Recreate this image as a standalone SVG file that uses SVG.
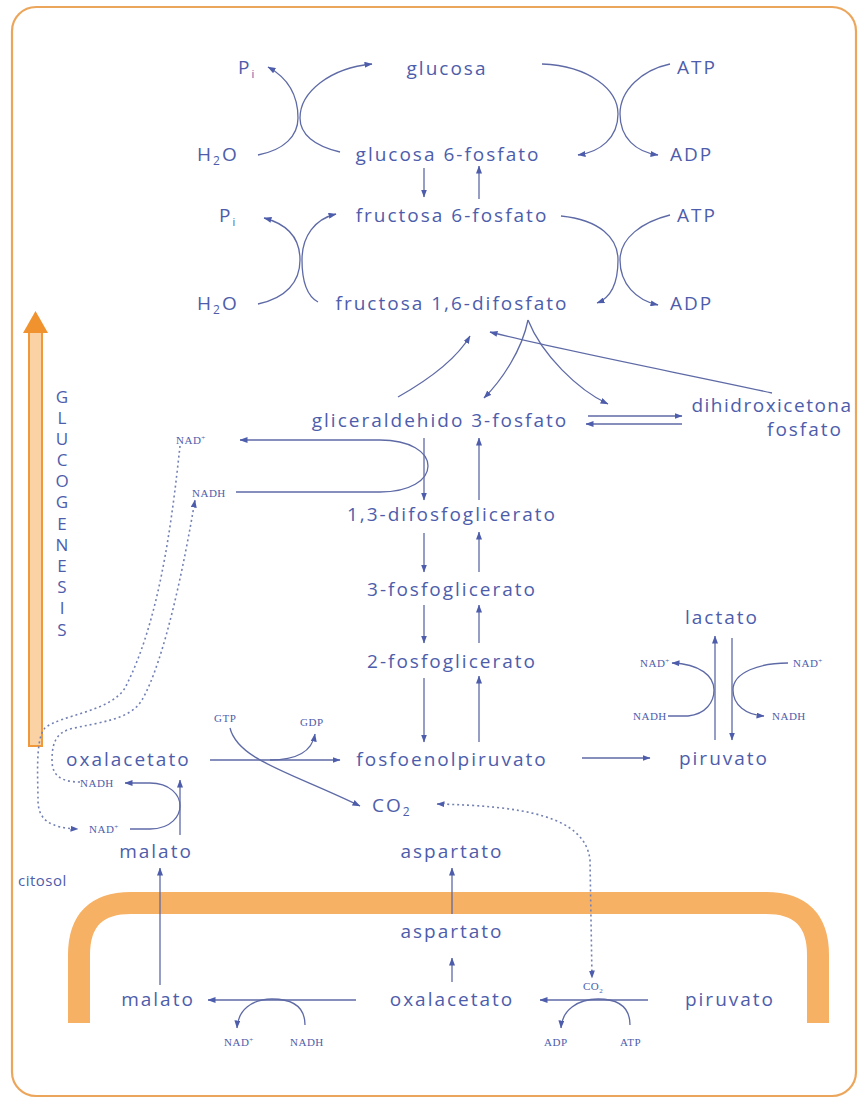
<svg xmlns="http://www.w3.org/2000/svg" width="861" height="1099" viewBox="0 0 861 1099">
<style>
.t{font-family:'Open Sans','Liberation Sans',sans-serif;font-size:19px;fill:#4d5dab;letter-spacing:2px}
.m{text-anchor:middle}
.s{font-family:'Liberation Serif',serif;font-size:11px;fill:#4d5dab;letter-spacing:0.5px}
.v{font-family:'Open Sans','Liberation Sans',sans-serif;font-size:17px;fill:#4d5dab;text-anchor:middle}
.c{fill:none;stroke:#5e6aa6;stroke-width:1.3}
.a{marker-end:url(#ah)}
.d{fill:none;stroke:#7380b3;stroke-width:1.6;stroke-dasharray:2 3}
</style>
<defs>
<marker id="ah" viewBox="0 0 8 6" refX="7.5" refY="3" markerWidth="8" markerHeight="6" markerUnits="userSpaceOnUse" orient="auto-start-reverse">
<path d="M0,0 L8,3 L0,6 z" fill="#4d5dab"/>
</marker>
</defs>
<rect x="0" y="0" width="861" height="1099" fill="#ffffff"/>
<rect id="frame" x="12" y="7" width="844" height="1089" rx="24" fill="none" stroke="#eca65c" stroke-width="2.2"/>
<g id="membrane">
<path d="M 79 1023 V 955 Q 79 903 131 903 H 766 Q 818 903 818 955 V 1023" fill="none" stroke="#f6b164" stroke-width="22"/>
</g>
<g id="glucogenesis-arrow">
<rect x="29" y="332" width="13" height="414" fill="#fbd2a4" stroke="#f0993c" stroke-width="2"/>
<polygon points="23,333 35.5,311 48,333" fill="#f0922e"/>
</g>
<g id="glucogenesis-label">
<text class="v" x="62" y="403">G</text>
<text class="v" x="62" y="424">L</text>
<text class="v" x="62" y="445">U</text>
<text class="v" x="62" y="466">C</text>
<text class="v" x="62" y="487">O</text>
<text class="v" x="62" y="508">G</text>
<text class="v" x="62" y="530">E</text>
<text class="v" x="62" y="551">N</text>
<text class="v" x="62" y="572">E</text>
<text class="v" x="62" y="593">S</text>
<text class="v" x="62" y="614">I</text>
<text class="v" x="62" y="636">S</text>
</g>

<g id="connectors">
<path class="c a" d="M 258 155 C 284 150 298 136 298 118 C 298 96 288 78 268 67"/>
<path class="c a" d="M 340 152 C 314 146 300 134 300 118 C 300 92 330 68 372 64"/>
<path class="c a" d="M 542 64 C 590 66 618 90 618 114 C 618 138 600 152 578 155"/>
<path class="c a" d="M 670 64 C 642 70 620 90 620 114 C 620 138 636 152 658 155"/>
<path class="c a" d="M 424 168 V 197"/>
<path class="c a" d="M 479 199 V 166"/>
<path class="c a" d="M 258 304 C 286 298 300 282 300 260 C 300 238 287 224 264 218"/>
<path class="c a" d="M 318 302 C 307 296 302 280 302 260 C 302 236 315 219 336 214"/>
<path class="c a" d="M 561 216 C 600 220 618 238 618 260 C 618 284 610 298 597 303"/>
<path class="c a" d="M 670 215 C 642 222 620 238 620 260 C 620 284 636 300 658 305"/>
<path class="c a" d="M 398 397 C 428 380 456 360 470 336"/>
<path class="c a" d="M 772 393 C 690 375 560 350 490 332"/>
<path class="c a" d="M 528 320 C 522 350 502 380 484 398"/>
<path class="c a" d="M 528 320 C 542 355 578 390 608 404"/>
<path class="c a" d="M 588 416 H 682"/>
<path class="c a" d="M 682 424 H 586"/>
<path class="c a" d="M 424 438 V 500"/>
<path class="c a" d="M 479 500 V 438"/>
<path class="c a" d="M 424 533 V 572"/>
<path class="c a" d="M 479 572 V 532"/>
<path class="c a" d="M 424 605 V 643"/>
<path class="c a" d="M 479 643 V 605"/>
<path class="c a" d="M 424 678 V 742"/>
<path class="c a" d="M 479 742 V 676"/>
<path class="c a" d="M 236 492 H 380 C 410 492 428 480 428 466 C 428 452 410 440 380 440 H 240"/>
<path class="c a" d="M 715 740 V 636"/>
<path class="c a" d="M 732 638 V 740"/>
<path class="c a" d="M 668 716 L 688 716 C 706 714 714 702 714 690 C 714 676 700 664 672 663"/>
<path class="c a" d="M 788 663 C 760 663 733 672 733 690 C 733 705 746 715 764 716"/>
<path class="c a" d="M 582 758 H 650"/>
<path class="c a" d="M 210 760 H 340"/>
<path class="c a" d="M 230 728 C 238 760 290 772 360 806"/>
<path class="c a" d="M 270 760 C 295 760 312 752 315 734"/>
<path class="c a" d="M 180 835 V 780" stroke-width="2"/>
<path class="c a" d="M 130 829 H 150 C 172 829 180 815 180 806 C 180 795 170 783 150 783 H 125"/>
<path class="d a" d="M 180 446 C 172 520 160 620 125 688 C 110 712 60 715 45 728 C 35 738 38 780 38 800 C 38 820 50 828 78 829"/>
<path class="d a" d="M 80 782 C 60 782 52 775 52 760 C 52 740 58 733 70 729 C 100 722 130 720 142 700 C 165 660 185 560 195 500"/>
<path class="d a" d="M 437 804 C 520 806 585 815 590 860 L 592 978" style="marker-start:url(#ah)"/>
<path class="c a" d="M 356 1000 H 208"/>
<path class="c a" d="M 305 1025 C 305 1006 292 999 272 999 C 252 999 238 1010 237 1028"/>
<path class="c a" d="M 648 1000 H 540"/>
<path class="c a" d="M 630 1025 C 630 1006 617 999 598 999 C 578 999 562 1010 561 1028"/>
<path class="c a" d="M 160 985 V 868"/>
<path class="c a" d="M 452 982 V 958"/>
<path class="c a" d="M 452 914 V 868"/>
</g>

<g id="pi-1"><text class="t" x="238" y="74">P<tspan font-size="11" dy="4">i</tspan></text></g>
<g id="glucosa"><text class="t m" x="447" y="75">glucosa</text></g>
<g id="atp-1"><text class="t" x="677" y="74">ATP</text></g>
<g id="h2o-1"><text class="t" x="197" y="161">H<tspan font-size="12" dy="4">2</tspan><tspan dy="-4">O</tspan></text></g>
<g id="glucosa-6-fosfato"><text class="t m" x="448" y="161">glucosa 6-fosfato</text></g>
<g id="adp-1"><text class="t" x="670" y="161">ADP</text></g>
<g id="pi-2"><text class="t" x="219" y="222">P<tspan font-size="11" dy="4">i</tspan></text></g>
<g id="fructosa-6-fosfato"><text class="t m" x="452" y="222">fructosa 6-fosfato</text></g>
<g id="atp-2"><text class="t" x="677" y="222">ATP</text></g>
<g id="h2o-2"><text class="t" x="197" y="310">H<tspan font-size="12" dy="4">2</tspan><tspan dy="-4">O</tspan></text></g>
<g id="fructosa-16-difosfato"><text class="t m" x="452" y="310">fructosa 1,6-difosfato</text></g>
<g id="adp-2"><text class="t" x="670" y="310">ADP</text></g>
<g id="gliceraldehido"><text class="t m" x="440" y="427">gliceraldehido 3-fosfato</text></g>
<g id="dihidroxicetona"><text class="t m" x="772" y="412" style="letter-spacing:1.5px">dihidroxicetona</text><text class="t m" x="805" y="436">fosfato</text></g>
<g id="nad-1"><text class="s" x="176" y="444">NAD<tspan font-size="7" dy="-4">+</tspan></text></g>
<g id="nadh-1"><text class="s" x="192" y="497">NADH</text></g>
<g id="difosfoglicerato"><text class="t m" x="452" y="521">1,3-difosfoglicerato</text></g>
<g id="fosfoglicerato-3"><text class="t m" x="452" y="596">3-fosfoglicerato</text></g>
<g id="fosfoglicerato-2"><text class="t m" x="452" y="668">2-fosfoglicerato</text></g>
<g id="lactato"><text class="t m" x="722" y="624">lactato</text></g>
<g id="nad-l"><text class="s" x="640" y="667">NAD<tspan font-size="7" dy="-4">+</tspan></text></g>
<g id="nad-r"><text class="s" x="793" y="667">NAD<tspan font-size="7" dy="-4">+</tspan></text></g>
<g id="nadh-l"><text class="s" x="633" y="720">NADH</text></g>
<g id="nadh-r"><text class="s" x="772" y="720">NADH</text></g>
<g id="gtp"><text class="s" x="214" y="722">GTP</text></g>
<g id="gdp"><text class="s" x="300" y="726">GDP</text></g>
<g id="oxalacetato-c"><text class="t" x="66" y="766">oxalacetato</text></g>
<g id="fosfoenolpiruvato"><text class="t m" x="452" y="766">fosfoenolpiruvato</text></g>
<g id="piruvato-c"><text class="t m" x="724" y="765">piruvato</text></g>
<g id="nadh-c"><text class="s" x="80" y="787">NADH</text></g>
<g id="nad-c"><text class="s" x="89" y="833">NAD<tspan font-size="7" dy="-4">+</tspan></text></g>
<g id="co2-c"><text class="t" x="372" y="812">CO<tspan font-size="12" dy="4">2</tspan></text></g>
<g id="malato-c"><text class="t m" x="156" y="858">malato</text></g>
<g id="aspartato-c"><text class="t m" x="452" y="858">aspartato</text></g>
<g id="citosol"><text class="t" x="18" y="886" style="font-size:15px;letter-spacing:0.5px">citosol</text></g>
<g id="aspartato-m"><text class="t m" x="452" y="938">aspartato</text></g>
<g id="malato-m"><text class="t m" x="158" y="1006">malato</text></g>
<g id="oxalacetato-m"><text class="t m" x="452" y="1006">oxalacetato</text></g>
<g id="piruvato-m"><text class="t m" x="730" y="1006">piruvato</text></g>
<g id="co2-m"><text class="s" x="583" y="990">CO<tspan font-size="7" dy="3">2</tspan></text></g>
<g id="nad-m"><text class="s" x="224" y="1046">NAD<tspan font-size="7" dy="-4">+</tspan></text></g>
<g id="nadh-m"><text class="s" x="290" y="1046">NADH</text></g>
<g id="adp-m"><text class="s" x="544" y="1046">ADP</text></g>
<g id="atp-m"><text class="s" x="620" y="1046">ATP</text></g>
</svg>
